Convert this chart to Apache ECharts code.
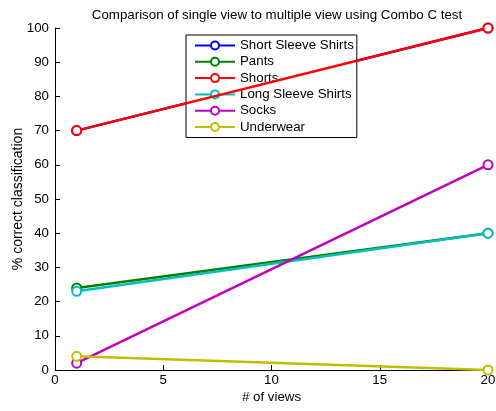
<!DOCTYPE html>
<html>
<head>
<meta charset="utf-8">
<script src="https://cdn.jsdelivr.net/npm/echarts@6/dist/echarts.min.js"></script>
<style>html,body{margin:0;padding:0;background:#fff}#c{width:496px;height:411px}</style>
</head>
<body>
<div id="c"></div>
<script>
var views = [1, 20];
var seriesNames = ['Short Sleeve Shirts', 'Pants', 'Shorts', 'Long Sleeve Shirts', 'Socks', 'Underwear'];
var shortSleeve = [70, 100];
var pants = [24, 40];
var shorts = [70, 100];
var longSleeve = [23, 40];
var socks = [2, 60];
var underwear = [4, 0];
var xTicks = [0, 5, 10, 15, 20];
var yTicks = [0, 10, 20, 30, 40, 50, 60, 70, 80, 90, 100];
var colors = ['#0000ff', '#008000', '#ff0000', '#00bfbf', '#bf00bf', '#bfbf00'];
var values = [shortSleeve, pants, shorts, longSleeve, socks, underwear];

var font = 'Liberation Sans, Arial, Helvetica, sans-serif';
var chart = echarts.init(document.getElementById('c'));
chart.setOption({
  animation: false,
  backgroundColor: '#fff',
  title: {
    text: 'Comparison of single view to multiple view using Combo C test',
    left: 272, top: 4, textAlign: 'center',
    textStyle: {fontFamily: font, fontSize: 13.3, fontWeight: 'normal', color: '#000'}
  },
  legend: {
    orient: 'vertical', left: 186, top: 35,
    data: seriesNames,
    backgroundColor: '#fff', borderColor: '#000', borderWidth: 1, borderRadius: 0,
    padding: [3, 3, 3, 8],
    itemWidth: 40, itemHeight: 10, itemGap: 1.3,
    textStyle: {fontFamily: font, fontSize: 13.3, lineHeight: 15, color: '#000'}
  },
  grid: {left: 55, right: 8, top: 28, bottom: 41, containLabel: false, outerBoundsMode: 'none'},
  xAxis: {
    type: 'value', min: 0, max: 20, interval: 5,
    name: '# of views', nameLocation: 'middle', nameGap: 21, nameMoveOverlap: false,
    nameTextStyle: {fontFamily: font, fontSize: 13.3, color: '#000'},
    axisLine: {lineStyle: {color: '#000', width: 1}},
    axisTick: {inside: true, length: 5, lineStyle: {color: '#000'}},
    axisLabel: {fontFamily: font, fontSize: 13.3, color: '#000', margin: 4},
    splitLine: {show: false}
  },
  yAxis: {
    type: 'value', min: 0, max: 100, interval: 10,
    name: '% correct classification', nameLocation: 'middle', nameGap: 30, nameMoveOverlap: false,
    nameTextStyle: {fontFamily: font, fontSize: 14, color: '#000'},
    axisLine: {show: true, lineStyle: {color: '#000', width: 1}},
    axisTick: {show: true, inside: true, length: 5, lineStyle: {color: '#000'}},
    axisLabel: {fontFamily: font, fontSize: 13.3, color: '#000', margin: 6},
    splitLine: {show: false}
  },
  series: seriesNames.map(function (n, i) {
    return {
      name: n, type: 'line',
      data: views.map(function (x, j) { return [x, values[i][j]]; }),
      color: colors[i],
      lineStyle: {width: 2.5, color: colors[i]},
      symbol: 'emptyCircle', symbolSize: 9,
      itemStyle: {color: colors[i], borderColor: colors[i], borderWidth: 2},
      z: 2 + i
    };
  })
});
</script>
</body>
</html>
